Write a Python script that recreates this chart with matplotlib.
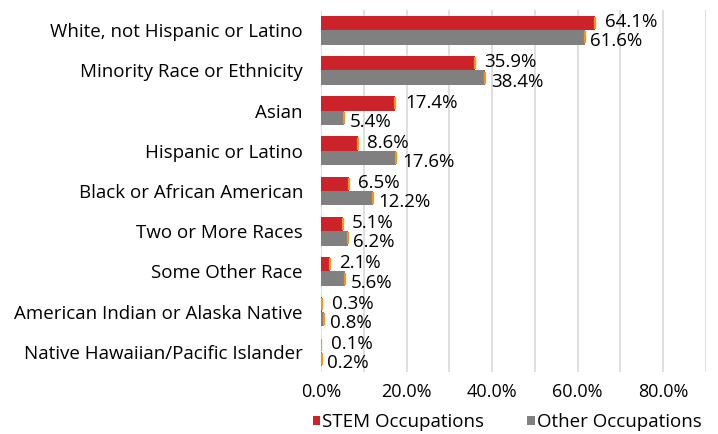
import matplotlib.pyplot as plt
import numpy as np

categories = ["White, not Hispanic or Latino", "Minority Race or Ethnicity", "Asian",
              "Hispanic or Latino", "Black or African American", "Two or More Races",
              "Some Other Race", "American Indian or Alaska Native",
              "Native Hawaiian/Pacific Islander"]
stem = [64.1, 35.9, 17.4, 8.6, 6.5, 5.1, 2.1, 0.3, 0.1]
other = [61.6, 38.4, 5.4, 17.6, 12.2, 6.2, 5.6, 0.8, 0.2]
xticks = [0, 20, 40, 60, 80]

plt.rcParams['font.family'] = ['Open Sans', 'DejaVu Sans']

fig = plt.figure(figsize=(7.18, 4.34), dpi=100)
ax = fig.add_axes([321 / 718, 1 - 372 / 434, (706 - 321) / 718, (372 - 10) / 434])

y = np.arange(len(categories))
h = 0.36
red = "#CC2229"
grey = "#808080"
orange = "#F7941D"

ax.barh(y - h / 2, stem, height=h, color=red, zorder=2)
ax.barh(y + h / 2, other, height=h, color=grey, zorder=2)
ax.plot(stem, y - h / 2, ls="none", marker="|", ms=8, mew=1.6, color=orange, zorder=3)
ax.plot(other, y + h / 2, ls="none", marker="|", ms=8, mew=1.6, color=orange, zorder=3)

for yi, v in zip(y, stem):
    ax.text(v + 2.2, yi - h / 2 - 0.02, f"{v:.1f}%", va="center", ha="left", fontsize=13.5)
for yi, v in zip(y, other):
    ax.text(v + 1.3, yi + h / 2 + 0.1, f"{v:.1f}%", va="center", ha="left", fontsize=13.5)

ax.set_xlim(0, 90)
ax.set_ylim(len(categories) - 0.5, -0.5)
ax.set_xticks(np.arange(0, 91, 10), minor=False)
ax.set_xticklabels([f"{t:.1f}%" if t in xticks else "" for t in np.arange(0, 91, 10)], fontsize=13)
ax.set_yticks(y)
ax.set_yticklabels(categories, fontsize=13.5)
ax.grid(axis="x", color="#D9D9D9", lw=1.2, zorder=0)
ax.tick_params(length=0, pad=8)
ax.tick_params(axis="y", pad=13)
for s in ax.spines.values():
    s.set_visible(False)

ax.barh([0], [0], color=red, label="STEM Occupations")
ax.barh([0], [0], color=grey, label="Other Occupations")
leg = fig.legend(loc="center", bbox_to_anchor=(507 / 718, 1 - 422 / 434), ncol=2, frameon=False,
                 fontsize=13.5, handlelength=0.4, handleheight=0.4, handletextpad=0.1,
                 columnspacing=2.3)

fig.savefig("out.png", dpi=100)
